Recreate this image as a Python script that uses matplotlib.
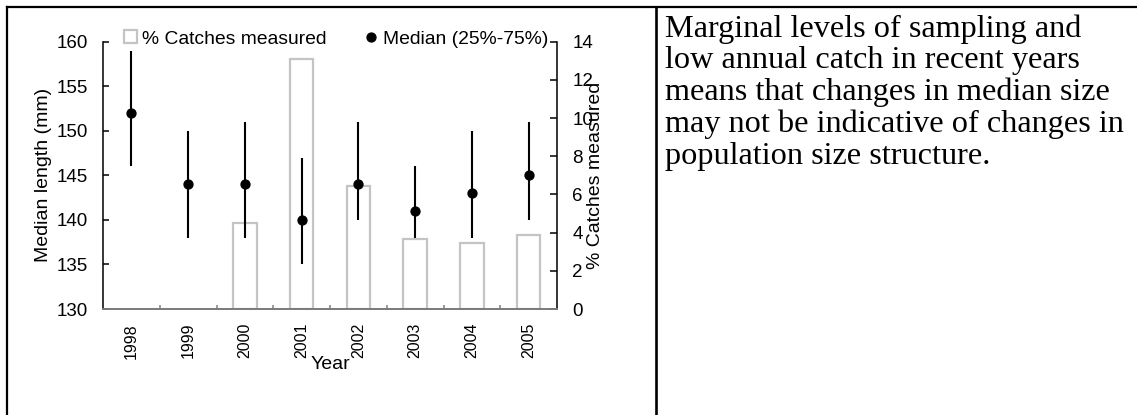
import numpy as np
import matplotlib
matplotlib.use("Agg")
import matplotlib.pyplot as plt
from matplotlib.lines import Line2D
from matplotlib.patches import Patch

# ---- data -------------------------------------------------------------
years = ["1998", "1999", "2000", "2001", "2002", "2003", "2004", "2005"]
median_len = [152, 144, 144, 140, 144, 141, 143, 145]
q25_len = [146, 138, 138, 135, 140, 138, 138, 140]
q75_len = [159, 150, 151, 147, 151, 146, 150, 151]
pct_measured = [0.0, 0.0, 4.5, 13.1, 6.45, 3.67, 3.47, 3.89]

note_lines = [
    "Marginal levels of sampling and",
    "low annual catch in recent years",
    "means that changes in median size",
    "may not be indicative of changes in",
    "population size structure.",
]

# ---- figure -----------------------------------------------------------
W, H = 1137, 415
fig = plt.figure(figsize=(W / 100, H / 100), dpi=100)
plt.rcParams["font.family"] = ["Liberation Sans", "DejaVu Sans"]

def fx(px):
    return px / W

def fy(py):
    return 1 - py / H

# table rules
lw_rule = 1.6
fig.add_artist(Line2D([fx(7), 1.0], [fy(6.8), fy(6.8)], color="black", lw=lw_rule))
fig.add_artist(Line2D([fx(7), fx(7)], [fy(6.8), 0.0], color="black", lw=lw_rule))
fig.add_artist(Line2D([fx(655.5), fx(655.5)], [fy(6.8), 0.0], color="black", lw=lw_rule + 0.3))

# ---- chart ------------------------------------------------------------
x0, x1, ytop, ybot = 103, 557, 41.7, 309
ax = fig.add_axes([fx(x0), fy(ybot), fx(x1 - x0), (ybot - ytop) / H])
ax2 = ax.twinx()
ax.set_zorder(2)
ax2.set_zorder(1)
ax.patch.set_visible(False)

x = np.arange(len(years))
pct = np.array(pct_measured)
shown = pct > 0
ax2.bar(x[shown], pct[shown], width=0.41, facecolor="white",
        edgecolor="#c4c4c4", linewidth=1.6)

med = np.array(median_len)
lo = np.array(q25_len)
hi = np.array(q75_len)
ax.errorbar(x, med, yerr=[med - lo, hi - med], fmt="o", color="black",
            ms=6.4, elinewidth=1.5, capsize=0)

ax.set_xlim(-0.5, len(years) - 0.5)
ax.set_ylim(130, 160)
ax2.set_ylim(0, 14)
ax.set_yticks(np.arange(130, 161, 5))
ax2.set_yticks(np.arange(0, 15, 2))

ax.set_xticks(x)
ax.set_xticklabels(years, rotation=90, fontsize=11.5)
ax.set_xticks(np.arange(0.5, len(years) - 0.5, 1), minor=True)
ax.tick_params(axis="x", which="major", length=0, pad=10)
ax.tick_params(axis="x", which="minor", direction="in", length=3.2,
               width=1.1, color="#808080")
ax.tick_params(axis="y", direction="in", length=4.5, width=1.1,
               labelsize=13.5, pad=11)
ax2.tick_params(axis="y", direction="in", length=4.8, width=1.1,
                labelsize=13.5, pad=11)

for s in ("top", "right"):
    ax.spines[s].set_visible(False)
ax.spines["left"].set_linewidth(1.1)
ax.spines["bottom"].set_linewidth(1.4)
ax.spines["bottom"].set_color("#7a7a7a")
for s in ("top", "left", "bottom"):
    ax2.spines[s].set_visible(False)
ax2.spines["right"].set_linewidth(1.1)

ax.set_xlabel("Year", fontsize=14)
ax.xaxis.set_label_coords(0.5, -0.175)
ax.set_ylabel("Median length (mm)", fontsize=14, va="center")
ax.yaxis.set_label_coords(-0.132, 0.5)
ax2.set_ylabel("% Catches measured", fontsize=14, va="center")
ax2.yaxis.set_label_coords(1.084, 0.5)

handles = [
    Patch(facecolor="white", edgecolor="#c4c4c4", linewidth=1.6),
    Line2D([], [], marker="o", color="black", ls="none", ms=6.4),
]
fig.legend(handles, ["% Catches measured", "Median (25%-75%)"],
           loc="center left", bbox_to_anchor=(fx(124), fy(39)),
           bbox_transform=fig.transFigure, ncol=2, frameon=False,
           fontsize=13.9, handlelength=0.65, handleheight=0.65,
           handletextpad=0.27, columnspacing=2.0, borderpad=0,
           borderaxespad=0)

# ---- note text --------------------------------------------------------
for i, line in enumerate(note_lines):
    fig.text(fx(665), fy(36.7 + 31.7 * i), line, fontsize=23.2,
             family=["Liberation Serif", "DejaVu Serif"],
             ha="left", va="baseline")

fig.savefig("out.png", dpi=100)
